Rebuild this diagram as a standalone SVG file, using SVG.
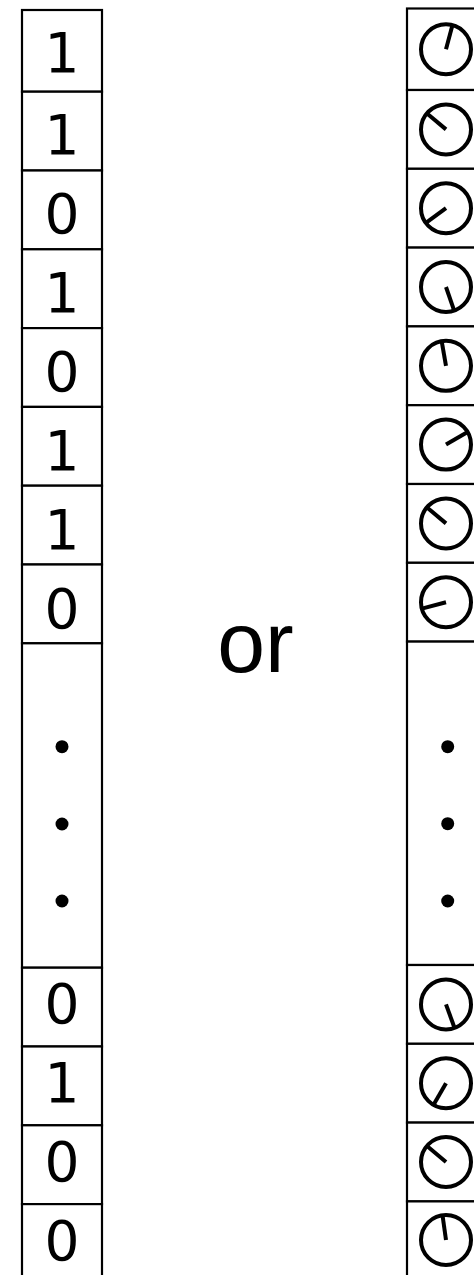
<svg xmlns="http://www.w3.org/2000/svg" xmlns:xlink="http://www.w3.org/1999/xlink" width="474" height="1275" viewBox="0 0 474 1275">
<style>
.cell{fill:#fff;stroke:#000;stroke-width:2.2}
.digit{font-family:"DejaVu Sans",sans-serif;font-size:55px;fill:#000;text-anchor:middle}
.or{font-family:"Liberation Sans",Arial,sans-serif;font-size:86px;fill:#000;text-anchor:middle}
.face{fill:none;stroke:#000;stroke-width:4}
.hand{stroke:#000;stroke-width:4;stroke-linecap:butt}
.dot{fill:#000}
</style>
<defs>
<circle id="face" class="face" cx="0" cy="0" r="25"/>
</defs>
<rect width="474" height="1275" fill="#fff"/>
<g id="left-column">
<g id="b1"><rect class="cell" x="22" y="10" width="80" height="81.7"/><text class="digit" x="62" y="72">1</text></g>
<g id="b2"><rect class="cell" x="22" y="91.7" width="80" height="78.8"/><text class="digit" x="62" y="153.5">1</text></g>
<g id="b3"><rect class="cell" x="22" y="170.5" width="80" height="78.8"/><text class="digit" x="62" y="232.5">0</text></g>
<g id="b4"><rect class="cell" x="22" y="249.3" width="80" height="78.8"/><text class="digit" x="62" y="311.5">1</text></g>
<g id="b5"><rect class="cell" x="22" y="328.1" width="80" height="78.8"/><text class="digit" x="62" y="390.5">0</text></g>
<g id="b6"><rect class="cell" x="22" y="406.9" width="80" height="78.8"/><text class="digit" x="62" y="469.5">1</text></g>
<g id="b7"><rect class="cell" x="22" y="485.7" width="80" height="78.8"/><text class="digit" x="62" y="548.5">1</text></g>
<g id="b8"><rect class="cell" x="22" y="564.5" width="80" height="78.8"/><text class="digit" x="62" y="627.5">0</text></g>
<g id="b-gap"><rect class="cell" x="22" y="643.3" width="80" height="324.4"/><circle class="dot" cx="62" cy="746.7" r="6.5"/><circle class="dot" cx="62" cy="824" r="6.5"/><circle class="dot" cx="62" cy="901" r="6.5"/></g>
<g id="b13"><rect class="cell" x="22" y="967.7" width="80" height="78.8"/><text class="digit" x="62" y="1023">0</text></g>
<g id="b14"><rect class="cell" x="22" y="1046.5" width="80" height="78.8"/><text class="digit" x="62" y="1102">1</text></g>
<g id="b15"><rect class="cell" x="22" y="1125.3" width="80" height="78.8"/><text class="digit" x="62" y="1181">0</text></g>
<g id="b16"><rect class="cell" x="22" y="1204.1" width="80" height="90"/><text class="digit" x="62" y="1260">0</text></g>
</g>
<g id="or-label"><text class="or" x="255.5" y="671.7">or</text></g>
<g id="right-column">
<g id="d1"><rect class="cell" x="407" y="8.5" width="90" height="81.5"/><g transform="translate(446,49.25)"><use xlink:href="#face" href="#face"/><line class="hand" x1="0" y1="0" x2="0" y2="-24" transform="rotate(15)"/></g></g>
<g id="d2"><rect class="cell" x="407" y="90" width="90" height="78.8"/><g transform="translate(446,129.4)"><use xlink:href="#face" href="#face"/><line class="hand" x1="0" y1="0" x2="0" y2="-24" transform="rotate(-50)"/></g></g>
<g id="d3"><rect class="cell" x="407" y="168.8" width="90" height="78.8"/><g transform="translate(446,208.2)"><use xlink:href="#face" href="#face"/><line class="hand" x1="0" y1="0" x2="0" y2="-24" transform="rotate(234)"/></g></g>
<g id="d4"><rect class="cell" x="407" y="247.6" width="90" height="78.8"/><g transform="translate(446,287)"><use xlink:href="#face" href="#face"/><line class="hand" x1="0" y1="0" x2="0" y2="-24" transform="rotate(161)"/></g></g>
<g id="d5"><rect class="cell" x="407" y="326.4" width="90" height="78.8"/><g transform="translate(446,365.8)"><use xlink:href="#face" href="#face"/><line class="hand" x1="0" y1="0" x2="0" y2="-24" transform="rotate(-10)"/></g></g>
<g id="d6"><rect class="cell" x="407" y="405.2" width="90" height="78.8"/><g transform="translate(446,444.6)"><use xlink:href="#face" href="#face"/><line class="hand" x1="0" y1="0" x2="0" y2="-24" transform="rotate(60)"/></g></g>
<g id="d7"><rect class="cell" x="407" y="484" width="90" height="78.8"/><g transform="translate(446,523.4)"><use xlink:href="#face" href="#face"/><line class="hand" x1="0" y1="0" x2="0" y2="-24" transform="rotate(-50)"/></g></g>
<g id="d8"><rect class="cell" x="407" y="562.8" width="90" height="78.8"/><g transform="translate(446,602.2)"><use xlink:href="#face" href="#face"/><line class="hand" x1="0" y1="0" x2="0" y2="-24" transform="rotate(-105)"/></g></g>
<g id="d-gap"><rect class="cell" x="407" y="641.6" width="90" height="323.4"/><circle class="dot" cx="447.7" cy="746.7" r="6.5"/><circle class="dot" cx="447.7" cy="823.7" r="6.5"/><circle class="dot" cx="447.7" cy="901" r="6.5"/></g>
<g id="d13"><rect class="cell" x="407" y="965" width="90" height="78.8"/><g transform="translate(446,1004.4)"><use xlink:href="#face" href="#face"/><line class="hand" x1="0" y1="0" x2="0" y2="-24" transform="rotate(160)"/></g></g>
<g id="d14"><rect class="cell" x="407" y="1043.8" width="90" height="78.8"/><g transform="translate(446,1083.2)"><use xlink:href="#face" href="#face"/><line class="hand" x1="0" y1="0" x2="0" y2="-24" transform="rotate(210)"/></g></g>
<g id="d15"><rect class="cell" x="407" y="1122.6" width="90" height="78.8"/><g transform="translate(446,1162)"><use xlink:href="#face" href="#face"/><line class="hand" x1="0" y1="0" x2="0" y2="-24" transform="rotate(-50)"/></g></g>
<g id="d16"><rect class="cell" x="407" y="1201.4" width="90" height="90"/><g transform="translate(446,1240)"><use xlink:href="#face" href="#face"/><line class="hand" x1="0" y1="0" x2="0" y2="-24" transform="rotate(-8)"/></g></g>
</g>
</svg>
